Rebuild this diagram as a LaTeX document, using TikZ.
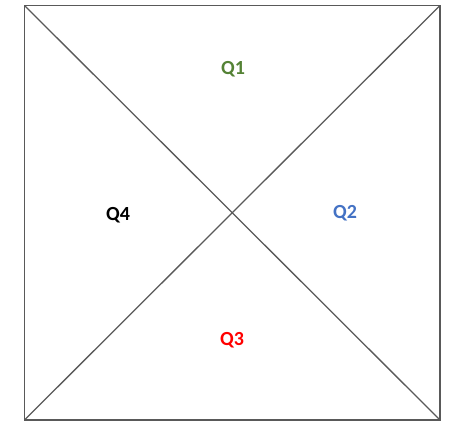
\documentclass[tikz,border=0pt]{standalone}
\usepackage{fontspec}
\setmainfont{Carlito}
\usepackage{xcolor}
\definecolor{qgreen}{HTML}{548235}
\definecolor{qblue}{HTML}{4472C4}
\definecolor{qred}{HTML}{FF0000}
\definecolor{edgegray}{HTML}{595959}

\begin{document}
\begin{tikzpicture}[
    x=1pt, y=-1pt,
    % --- Line styles ---
    edge/.style={draw=edgegray, line width=1.3pt},
    % --- Label styles ---
    qlbl/.style={font=\fontsize{20}{24}\selectfont\bfseries, text=#1, inner sep=0pt},
]

\useasboundingbox (0,0) rectangle (450,422);

% =============================================
%  Corners
% =============================================
\coordinate (tl) at (24.5, 5.5);
\coordinate (tr) at (440, 5.5);
\coordinate (br) at (440, 420);
\coordinate (bl) at (24.5, 420);

% =============================================
%  Square and diagonals
% =============================================
\draw[edge] (tl) -- (tr) -- (br) -- (bl) -- cycle;
\draw[edge] (tl) -- (br);
\draw[edge] (tr) -- (bl);

% =============================================
%  Quadrant labels
% =============================================
\node[qlbl=qgreen] (q1) at (233, 69)  {Q1};
\node[qlbl=qblue]  (q2) at (345, 213) {Q2};
\node[qlbl=qred]   (q3) at (232, 340) {Q3};
\node[qlbl=black]  (q4) at (118, 215) {Q4};

\end{tikzpicture}
\end{document}
